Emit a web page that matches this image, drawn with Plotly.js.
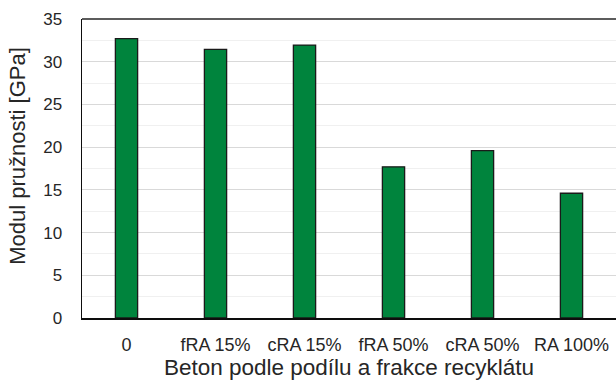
<!DOCTYPE html>
<html>
<head>
<meta charset="utf-8">
<script src="https://cdn.plot.ly/plotly-3.0.1.min.js"></script>
<style>html,body{margin:0;padding:0;overflow:hidden;background:#fff}#chart{width:616px;height:380px}</style>
</head>
<body>
<div id="chart"></div>
<script>
const categories = ["0", "fRA 15%", "cRA 15%", "fRA 50%", "cRA 50%", "RA 100%"];
const modulus = [32.7, 31.45, 31.95, 17.7, 19.6, 14.6];
const yTicks = [0, 5, 10, 15, 20, 25, 30, 35];
const xTitle = "Beton podle podílu a frakce recyklátu";
const yTitle = "Modul pružnosti [GPa]";

const font = "Liberation Sans, Arial, sans-serif";

Plotly.newPlot("chart", [{
  type: "bar",
  x: categories,
  y: modulus,
  marker: {color: "#00843d", line: {color: "#1a1a1a", width: 1.3}},
  hoverinfo: "none"
}], {
  width: 616, height: 380,
  margin: {l: 82, r: 0, t: 19, b: 62, pad: 0},
  paper_bgcolor: "#fff", plot_bgcolor: "#fff",
  bargap: 0.75,
  showlegend: false,
  font: {family: font, color: "#262626", size: 17},
  xaxis: {
    type: "category",
    showline: true, linecolor: "#0d0d0d", linewidth: 2,
    showgrid: false, zeroline: false,
    ticks: "", ticklabelstandoff: 9,
    tickfont: {family: font, size: 18, color: "#262626"},
    title: {text: xTitle, font: {family: font, size: 22.5, color: "#262626"}, standoff: 7},
    automargin: false
  },
  yaxis: {
    range: [0, 35],
    tickvals: yTicks,
    showline: true, linecolor: "#0d0d0d", linewidth: 1.5,
    showgrid: true, gridcolor: "#d9d9d9", gridwidth: 1,
    minor: {dtick: 2.5, showgrid: true, gridcolor: "#f0f0f0", gridwidth: 1},
    zeroline: false,
    ticks: "", ticklabelstandoff: 15,
    tickfont: {family: font, size: 17, color: "#262626"},
    automargin: false
  },
  shapes: [{
    type: "line", xref: "paper", yref: "paper",
    x0: 0, x1: 1, y0: 1, y1: 1,
    line: {color: "#262626", width: 1.5}
  }],
  annotations: [{
    text: yTitle, textangle: -90, showarrow: false,
    xref: "paper", yref: "paper",
    x: -0.12, y: 0.542, xanchor: "center", yanchor: "middle",
    font: {family: font, size: 22, color: "#262626"}
  }]
}, {staticPlot: true, displayModeBar: false});
</script>
</body>
</html>
